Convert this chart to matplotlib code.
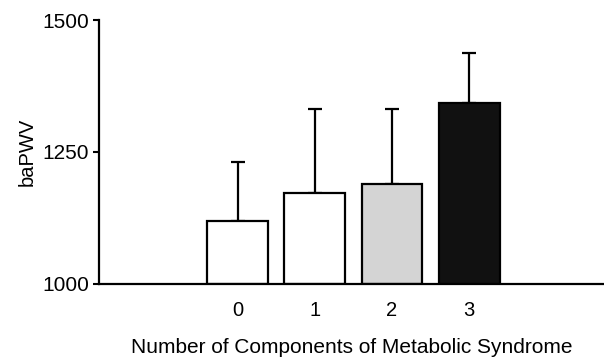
import matplotlib.pyplot as plt
import numpy as np

plt.rcParams['font.family'] = ['Liberation Sans', 'DejaVu Sans']

groups = ['0', '1', '2', '3']
means = [1119, 1172, 1189, 1343]
sd = [112, 159, 142, 94]
colors = ['white', 'white', '#d4d4d4', '#111111']

fig = plt.figure(figsize=(6.04, 3.58), dpi=100)
ax = fig.add_axes([0.164, 0.207, 0.836, 0.737])

x = np.arange(len(groups))
ax.bar(x, [m - 1000 for m in means], bottom=1000, width=0.79,
       color=colors, edgecolor='black', linewidth=1.6, zorder=2)
ax.errorbar(x, means, yerr=[[0] * len(sd), sd], fmt='none',
            ecolor='black', elinewidth=1.6, capsize=4.8, capthick=1.6, zorder=1)

ax.set_xlim(-1.8, 4.75)
ax.set_ylim(1000, 1500)
ax.set_yticks([1000, 1250, 1500])
ax.set_xticks(x)
ax.set_xticklabels(groups)
ax.tick_params(axis='x', length=0, pad=12, labelsize=14.5)
ax.tick_params(axis='y', length=4, width=1.5, direction='out', pad=3, labelsize=15)

for s in ['top', 'right']:
    ax.spines[s].set_visible(False)
for s in ['left', 'bottom']:
    ax.spines[s].set_linewidth(1.6)

ax.set_ylabel('baPWV', fontsize=14.5, labelpad=4)
ax.set_xlabel('Number of Components of Metabolic Syndrome', fontsize=15, labelpad=13)

fig.savefig('out.png', dpi=100)
